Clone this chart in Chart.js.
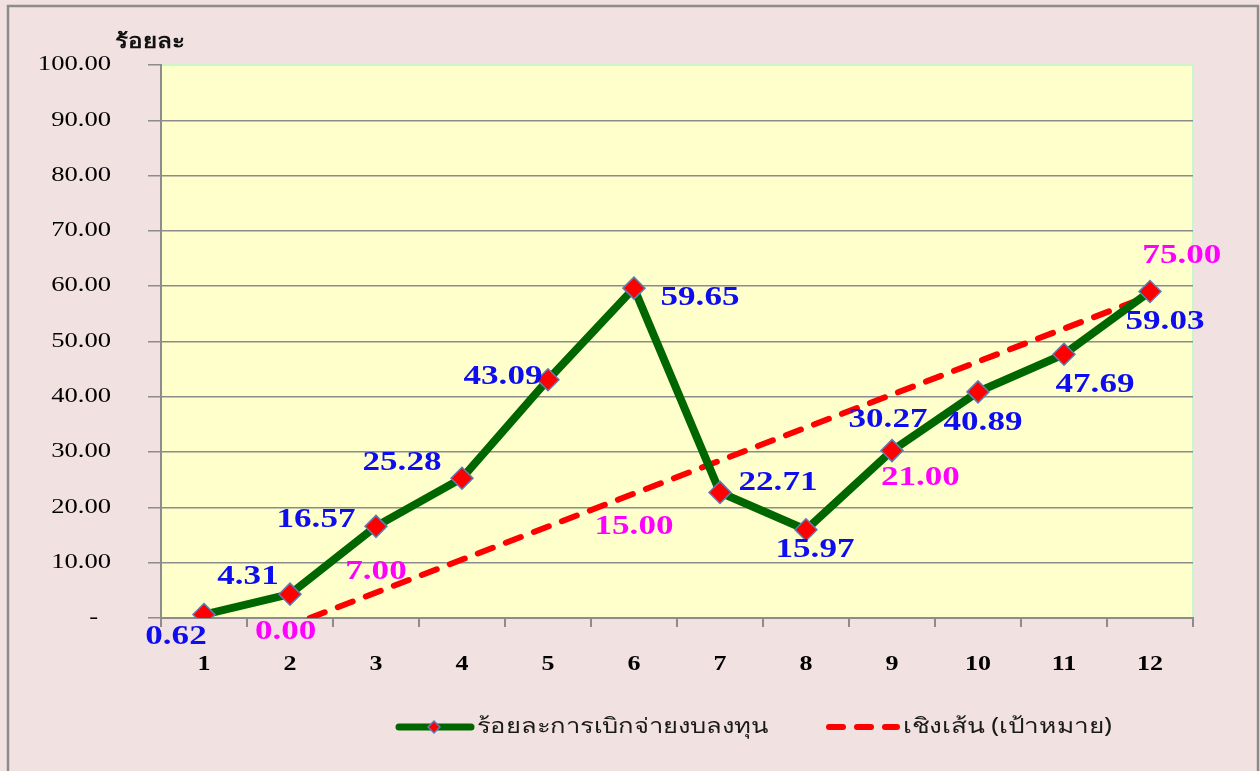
<!DOCTYPE html>
<html>
<head>
<meta charset="utf-8">
<script src="https://cdn.jsdelivr.net/npm/chart.js@4.4.1/dist/chart.umd.min.js"></script>
<style>
	html, body { margin: 0; padding: 0; background: #f2e1e1; }
	#wrap { width: 1260px; height: 771px; position: relative; }
</style>
</head>
<body>
<div id="wrap"><canvas id="lineChart"></canvas></div>
<script>
// data
var months = ["1", "2", "3", "4", "5", "6", "7", "8", "9", "10", "11", "12"];
var spendPct = [0.62, 4.31, 16.57, 25.28, 43.09, 59.65, 22.71, 15.97, 30.27, 40.89, 47.69, 59.03];
var targetPct = [0.0, 7.0, 15.0, 21.0, 75.0];
var trendX = [2.23, 12];
var trendY = [0, 58.3];
var yTicks = [0, 10, 20, 30, 40, 50, 60, 70, 80, 90, 100];

var seriesName = "ร้อยละการเบิกจ่ายงบลงทุน";
var trendName = "เชิงเส้น (เป้าหมาย)";
var yTitle = "ร้อยละ";

// where the value labels sit, in pixels from their point
var labelOffsets = [
	[-28, 22], [-42, -17], [-60, -6], [-60, -15], [-45, -3], [66, 10],
	[58, -9], [9, 20], [-4, -31], [5, 31], [31, 31], [15, 30]
];
// target labels are placed in axis units (x category, y value)
var targetLabelAt = [[1.95, -2.5], [3.0, 8.3], [6.0, 16.5], [9.33, 25.3], [12.37, 65.4]];

var SERIF = "'Liberation Serif', 'DejaVu Serif', serif";
var SANS = "'Noto Sans', 'DejaVu Sans', sans-serif";

function wideText(ctx, text, x, y, align, sx) {
	ctx.save();
	ctx.translate(x, y);
	ctx.scale(sx, 1);
	ctx.textAlign = align;
	ctx.textBaseline = "middle";
	ctx.fillText(text, 0, 0);
	ctx.restore();
}

// fit a string to a pixel width by stretching it sideways
function fitText(ctx, text, x, y, align, w) {
	var sx = w / ctx.measureText(text).width;
	wideText(ctx, text, x, y, align, sx);
}

var decorPlugin = {
	id: "decor",
	beforeDraw: function (chart) {
		var ctx = chart.ctx, a = chart.chartArea;
		ctx.save();
		ctx.fillStyle = "#f2e1e1";
		ctx.fillRect(0, 0, chart.width, chart.height);
		ctx.fillStyle = "#ffffcc";
		ctx.fillRect(a.left, a.top, a.right - a.left, a.bottom - a.top);
		ctx.strokeStyle = "#ccf5cc";
		ctx.lineWidth = 2;
		ctx.beginPath();
		ctx.moveTo(a.left, a.top);
		ctx.lineTo(a.right, a.top);
		ctx.lineTo(a.right, a.bottom);
		ctx.stroke();
		ctx.strokeStyle = "#8c8c8c";
		ctx.lineWidth = 2.5;
		ctx.strokeRect(8, 6, 1250, 775);
		ctx.restore();
	},
	afterDraw: function (chart) {
		var ctx = chart.ctx, xs = chart.scales.x, ys = chart.scales.y;
		ctx.save();
		// y tick labels
		ctx.fillStyle = "#000";
		ctx.font = "20px " + SERIF;
		yTicks.forEach(function (v) {
			var t = v === 0 ? "-" : v.toFixed(2);
			var xr = v === 0 ? 98 : 111;
			wideText(ctx, t, xr, ys.getPixelForValue(v), "right", 1.33);
		});
		// x tick labels
		ctx.font = "bold 20px " + SERIF;
		months.forEach(function (m, i) {
			wideText(ctx, m, xs.getPixelForValue(i), 665, "center", 1.3);
		});
		// axis title
		ctx.fillStyle = "#111";
		ctx.font = "bold 20px " + SANS;
		fitText(ctx, yTitle, 115, 42, "left", 70);
		// value labels
		ctx.font = "bold 27px " + SERIF;
		ctx.fillStyle = "#0d0df0";
		spendPct.forEach(function (v, i) {
			var px = xs.getPixelForValue(i) + labelOffsets[i][0];
			var py = ys.getPixelForValue(v) + labelOffsets[i][1];
			wideText(ctx, v.toFixed(2), px, py, "center", 1.3);
		});
		ctx.fillStyle = "#ff00ff";
		targetPct.forEach(function (v, i) {
			var px = xs.getPixelForValue(targetLabelAt[i][0] - 1);
			var py = ys.getPixelForValue(targetLabelAt[i][1]);
			wideText(ctx, v.toFixed(2), px, py, "center", 1.3);
		});
		// legend
		var ly = 727;
		ctx.lineCap = "round";
		ctx.strokeStyle = "#006600";
		ctx.lineWidth = 7;
		ctx.beginPath();
		ctx.moveTo(399, ly);
		ctx.lineTo(471, ly);
		ctx.stroke();
		ctx.fillStyle = "#ff0000";
		ctx.strokeStyle = "#5b7fb5";
		ctx.lineWidth = 1.5;
		ctx.beginPath();
		ctx.moveTo(434, ly - 6);
		ctx.lineTo(440, ly);
		ctx.lineTo(434, ly + 6);
		ctx.lineTo(428, ly);
		ctx.closePath();
		ctx.fill();
		ctx.stroke();
		ctx.strokeStyle = "#ff0000";
		ctx.lineWidth = 6;
		ctx.setLineDash([14, 14]);
		ctx.beginPath();
		ctx.moveTo(829, ly);
		ctx.lineTo(897, ly);
		ctx.stroke();
		ctx.setLineDash([]);
		ctx.fillStyle = "#1a1a1a";
		ctx.font = "21px " + SANS;
		fitText(ctx, seriesName, 477, ly, "left", 291);
		fitText(ctx, trendName, 903, ly, "left", 209);
		ctx.restore();
	},
};

var ctxEl = document.getElementById("lineChart");
var lineChart = new Chart(ctxEl, {
	type: "line",
	data: {
		labels: months,
		datasets: [
			{
				label: seriesName,
				data: spendPct,
				borderColor: "#006600",
				borderWidth: 8,
				backgroundColor: "#ff0000",
				pointStyle: "rectRot",
				pointRadius: 11,
				pointBackgroundColor: "#ff0000",
				pointBorderColor: "#5b7fb5",
				pointBorderWidth: 1.5,
				tension: 0,
				order: 1,
			},
			{
				label: trendName,
				data: trendX.map(function (x, i) { return { x: x, y: trendY[i] }; }),
				xAxisID: "x2",
				borderColor: "#ff0000",
				borderWidth: 6,
				borderDash: [16, 14],
				borderCapStyle: "round",
				pointRadius: 0,
				fill: false,
				order: 2,
			},
		],
	},
	options: {
		responsive: true,
		maintainAspectRatio: false,
		animation: false,
		layout: { padding: { top: 65, right: 67, left: 0, bottom: 0 } },
		plugins: {
			legend: { display: false },
			tooltip: { enabled: false },
		},
		scales: {
			x: {
				type: "category",
				offset: true,
				grid: { drawOnChartArea: false, offset: true, tickLength: 9, color: "#8c8c8c", lineWidth: 2 },
				border: { display: true, color: "#8c8c8c", width: 2 },
				ticks: { display: false },
				afterFit: function (s) { s.height = 153; },
			},
			x2: {
				type: "linear",
				display: false,
				min: 0.5,
				max: 12.5,
			},
			y: {
				min: 0,
				max: 100,
				afterBuildTicks: function (s) { s.ticks = yTicks.map(function (v) { return { value: v }; }); },
				grid: {
					tickLength: 13,
					lineWidth: 1.5,
					color: function (c) { return c.tick && c.tick.value === 100 ? "#ccf5cc" : "#8c8c8c"; },
					tickColor: "#8c8c8c",
				},
				border: { display: true, color: "#8c8c8c", width: 2 },
				ticks: { display: false },
				afterFit: function (s) { s.width = 161; },
			},
		},
	},
	plugins: [decorPlugin],
});
</script>
</body>
</html>
